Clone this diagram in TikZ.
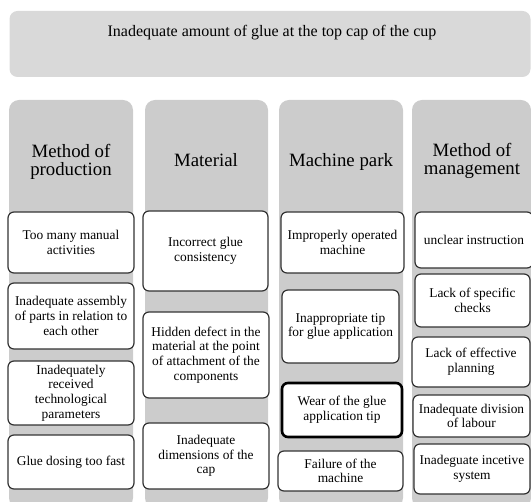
\documentclass[tikz,border=0pt]{standalone}
\usepackage{fontspec}
\setmainfont{Liberation Serif}
\definecolor{topgray}{HTML}{D9D9D9}
\definecolor{colgray}{HTML}{CCCCCC}
\definecolor{edgegray}{HTML}{333333}
\tikzset{
  cbox/.style={draw=edgegray, line width=1.2pt, fill=white, rounded corners=6pt,
    align=center, font=\fontsize{13.4}{14.6}\selectfont, inner sep=0pt},
  thickbox/.style={draw=black, line width=2.6pt},
  colbox/.style={fill=colgray, rounded corners=10pt, inner sep=0pt},
  head/.style={font=\fontsize{18.8}{18.5}\selectfont, align=center, inner sep=0pt},
  titlebox/.style={fill=topgray, rounded corners=8pt, inner sep=0pt}
}
\newcommand\cbx[7][]{\node[cbox,#1, minimum width=#4pt-#2pt, minimum height=#5pt-#3pt]
  (#6) at ({(#2+#4)/2},{(#3+#5)/2}) {#7};}
\newcommand\colx[5]{\node[colbox, minimum width=#3pt-#2pt, minimum height=#5pt-#4pt]
  (#1) at ({(#2+#3)/2},{(#4+#5)/2}) {};}
\begin{document}
\begin{tikzpicture}[x=1pt,y=-1pt]
\useasboundingbox (0,0) rectangle (531,502);
% title
\node[titlebox, minimum width=521pt, minimum height=66pt] (top) at (270,44) {};
\node[font=\fontsize{16}{18}\selectfont, inner sep=0pt] (title) at (272,33) {Inadequate amount of glue at the top cap of the cup};
% columns
\colx{c1}{9}{133}{100}{508}
\colx{c2}{145}{268}{100}{508}
\colx{c3}{279}{403}{100}{508}
\colx{c4}{412}{531}{100}{508}
\node[head] (h1) at (71,162) {Method of\\production};
\node[head] (h2) at (206,160) {Material};
\node[head] (h3) at (341,162) {Machine park};
\node[head] (h4) at (472,161) {Method of\\management};
% column 1
\cbx{8}{212}{134}{273}{b11}{Too many manual\\activities}
\cbx{8}{283}{134}{349}{b12}{Inadequate assembly\\of parts in relation to\\each other}
\cbx{8}{361}{134}{425}{b13}{Inadequately\\received\\technological\\parameters}
\cbx{8}{435}{134}{489}{b14}{Glue dosing too fast}
% column 2
\cbx{143}{211}{268}{291}{b21}{Incorrect glue\\consistency}
\cbx{143}{312}{269}{398}{b22}{Hidden defect in the\\material at the point\\of attachment of the\\components}
\cbx{143}{423}{269}{489}{b23}{Inadequate\\dimensions of the\\cap}
% column 3
\cbx{281}{212}{404}{273}{b31}{Improperly operated\\machine}
\cbx{282}{290}{399}{363}{b32}{Inappropriate tip\\for glue application}
\cbx[thickbox]{282}{383}{402}{437}{b33}{Wear of the glue\\application tip}
\cbx{278}{451}{403}{491}{b34}{Failure of the\\machine}
% column 4
\cbx{415}{212}{533}{268}{b41}{unclear instruction}
\cbx{415}{274}{530}{327}{b42}{Lack of specific\\checks}
\cbx{412}{337}{530}{387}{b43}{Lack of effective\\planning}
\cbx{413}{395}{530}{437}{b44}{Inadequate division\\of labour}
\cbx{414}{444}{530}{494}{b45}{Inadeguate incetive\\system}
\end{tikzpicture}
\end{document}
